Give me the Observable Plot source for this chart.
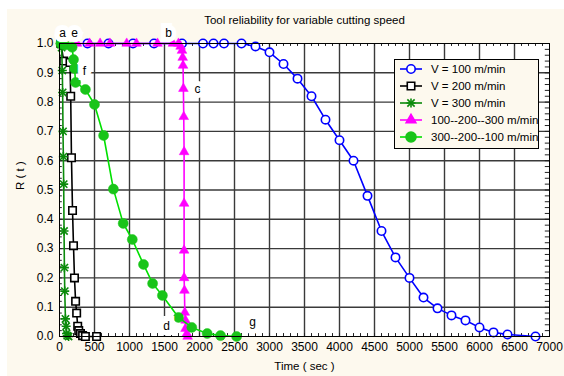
<!DOCTYPE html>
<html><head><meta charset="utf-8">
<script src="https://cdn.jsdelivr.net/npm/d3@7"></script>
<script src="https://cdn.jsdelivr.net/npm/@observablehq/plot@0.6"></script>
<style>body{margin:0;background:#fff} svg{display:block}</style>
</head><body><div id="chart"></div>
<script>
// ---- data ----
const seriesNames = ["V = 100 m/min", "V = 200 m/min", "V = 300 m/min", "100--200--300 m/min", "300--200--100 m/min"];

const v100T = [400, 700, 1050, 1350, 1750, 2050, 2200, 2350, 2600, 2800, 3000, 3200, 3400, 3600, 3800, 4000, 4200, 4400, 4600, 4800, 5000, 5200, 5400, 5600, 5800, 6000, 6200, 6400, 6800];
const v100R = [1, 1, 1, 1, 1, 1, 1, 1, 1, 0.99, 0.97, 0.93, 0.88, 0.82, 0.74, 0.67, 0.60, 0.48, 0.36, 0.27, 0.20, 0.133, 0.096, 0.072, 0.055, 0.031, 0.014, 0.007, 0.0];

const v200T = [20, 60, 150, 160, 171, 186, 200, 214, 230, 245, 260, 275, 300, 330, 370, 530];
const v200R = [1.0, 0.94, 0.935, 0.82, 0.61, 0.43, 0.31, 0.20, 0.12, 0.08, 0.035, 0.02, 0.01, 0.003, 0.0, 0.0];

const v300T = [10, 30, 40, 45, 50, 55, 60, 65, 70, 75, 85, 95, 100, 110, 130];
const v300R = [1.0, 0.986, 0.908, 0.833, 0.70, 0.614, 0.52, 0.36, 0.235, 0.155, 0.06, 0.035, 0.01, 0.003, 0.0];

const incT = [250, 430, 580, 720, 960, 1100, 1400, 1620, 1700, 1730, 1750, 1760, 1765, 1770, 1775, 1780, 1780, 1780, 1780, 1785, 1790, 1800, 1800, 1820, 1830];
const incR = [1, 1, 1, 1, 1, 1, 1, 1, 1, 0.99, 0.976, 0.952, 0.925, 0.846, 0.75, 0.63, 0.454, 0.294, 0.20, 0.157, 0.082, 0.055, 0.027, 0.01, 0.0];

const decT = [20, 80, 180, 200, 215, 230, 370, 500, 630, 770, 910, 1040, 1200, 1330, 1470, 1700, 1890, 2110, 2300, 2530];
const decR = [1.0, 0.995, 0.987, 0.945, 0.915, 0.867, 0.843, 0.792, 0.686, 0.503, 0.386, 0.331, 0.246, 0.181, 0.14, 0.065, 0.031, 0.01, 0.003, 0.0];

const labelText = ["a", "b", "c", "d", "e", "f", "g"];
const labelT = [43, 1557, 1971, 1529, 214, 357, 2757];
const labelR = [1.036, 1.036, 0.843, 0.034, 1.036, 0.904, 0.048];

const xTicks = [0, 500, 1000, 1500, 2000, 2500, 3000, 3500, 4000, 4500, 5000, 5500, 6000, 6500, 7000];
const yTicks = [0, 0.1, 0.2, 0.3, 0.4, 0.5, 0.6, 0.7, 0.8, 0.9, 1.0];

const titleText = "Tool reliability for variable cutting speed";
const xLabel = "Time ( sec )";
const yLabel = "R ( t )";

// ---- build tables ----
const zip = (T, R) => T.map((t, i) => ({t, r: R[i]}));
const d100 = zip(v100T, v100R), d200 = zip(v200T, v200R), d300 = zip(v300T, v300R);
const dInc = zip(incT, incR), dDec = zip(decT, decR);
const labels = labelText.map((s, i) => ({s, t: labelT[i], r: labelR[i]}));
const minorX = d3.range(0, 7001, 100);
const minorY = d3.range(0, 1.0001, 0.02);

const C = {blue: "#0000ff", black: "#000000", dgreen: "#0a8a0a", mag: "#ff00ff", green: "#19c419", gline: "#00e000"};
const FONT = "'Liberation Sans', Arial, sans-serif";
const grid = {stroke: "#3a3a3a", strokeOpacity: 1, strokeWidth: 1.4};

const svg = Plot.plot({
  width: 564, height: 376,
  marginLeft: 59, marginRight: 15, marginTop: 43, marginBottom: 40,
  x: {domain: [0, 7000]},
  y: {domain: [0, 1]},
  style: {background: "white", fontFamily: FONT, fontSize: "12px", color: "black", overflow: "visible"},
  marks: [
    Plot.frame({fill: "white", stroke: null}),
    Plot.gridX(xTicks.slice(1, -1), grid),
    Plot.gridY(yTicks.slice(1, -1), grid),
    Plot.ruleX(minorX, {x: d => d, y1: 1, y2: 0.99, stroke: "#222", strokeWidth: 1}),
    Plot.ruleX(minorX, {x: d => d, y1: 0, y2: 0.01, stroke: "#222", strokeWidth: 1}),
    Plot.ruleY(minorY, {y: d => d, x1: 7000, x2: 6940, stroke: "#222", strokeWidth: 1}),
    Plot.ruleY(minorY, {y: d => d, x1: 0, x2: 40, stroke: "#222", strokeWidth: 1}),
    // V=100
    Plot.line(d100, {x: "t", y: "r", stroke: C.blue, strokeWidth: 1.6}),
    Plot.dot(d100, {x: "t", y: "r", r: 4.2, stroke: C.blue, strokeWidth: 1.6, fill: "white"}),
    // V=200
    Plot.line(d200, {x: "t", y: "r", stroke: C.black, strokeWidth: 1.6}),
    Plot.dot(d200, {x: "t", y: "r", symbol: "square", r: 4.2, stroke: C.black, strokeWidth: 1.6, fill: "white"}),
    // V=300
    Plot.line(d300, {x: "t", y: "r", stroke: C.dgreen, strokeWidth: 1.6}),
    Plot.dot(d300, {x: "t", y: "r", symbol: "plus", r: 3, stroke: C.dgreen, strokeWidth: 1.6}),
    Plot.dot(d300, {x: "t", y: "r", symbol: "times", r: 3.4, stroke: C.dgreen, strokeWidth: 1.6}),
    // 100-200-300
    Plot.line(dInc, {x: "t", y: "r", stroke: C.mag, strokeWidth: 1.6}),
    Plot.dot(dInc, {x: "t", y: "r", symbol: "triangle", r: 3.6, fill: C.mag, stroke: C.mag, strokeWidth: 0.5}),
    // 300-200-100
    Plot.line(dDec, {x: "t", y: "r", stroke: C.gline, strokeWidth: 1.6}),
    Plot.dot(dDec, {x: "t", y: "r", r: 5, fill: C.green, stroke: C.green, strokeWidth: 0.5}),
    // letter labels
    Plot.text(labels, {x: "t", y: "r", text: "s", fill: "black", stroke: "white", strokeWidth: 10, strokeLinejoin: "miter", fontSize: 12}),
    Plot.frame({stroke: "black", strokeWidth: 1}),
    Plot.axisX(xTicks, {tickSize: 0, tickPadding: 6, fontSize: 12, tickFormat: d3.format("d"), label: null}),
    Plot.axisY(yTicks, {tickSize: 0, tickPadding: 6, fontSize: 12, tickFormat: d3.format(".1f"), label: null}),
    Plot.text([titleText], {frameAnchor: "top", dy: -23, fontSize: 11.5, lineAnchor: "middle"}),
    Plot.text([xLabel], {frameAnchor: "bottom", dy: 30, fontSize: 11.5, lineAnchor: "middle"}),
    Plot.text([yLabel], {frameAnchor: "left", dx: -39, rotate: -90, fontSize: 11.5, lineAnchor: "middle"})
  ]
});

// cream figure background
const s = d3.select(svg);
s.insert("rect", ":first-child").attr("x", 7).attr("y", 9).attr("width", 557).attr("height", 367).attr("fill", "#fdf9ee");

// legend
const lg = s.append("g").attr("font-family", FONT).attr("font-size", 11.5).attr("text-anchor", "start");
lg.append("rect").attr("x", 394.5).attr("y", 59.5).attr("width", 144).attr("height", 89).attr("fill", "#fdf9ee").attr("stroke", "black");
const legendStyle = [
  {line: C.blue, sym: d3.symbolCircle, size: Math.PI * 4.2 * 4.2, fill: "white", stroke: C.blue},
  {line: C.black, sym: d3.symbolSquare, size: Math.PI * 4.2 * 4.2, fill: "white", stroke: C.black},
  {line: C.dgreen, sym: "star", fill: "none", stroke: C.dgreen},
  {line: C.mag, sym: d3.symbolTriangle, size: Math.PI * 3.6 * 3.6, fill: C.mag, stroke: C.mag},
  {line: C.gline, sym: d3.symbolCircle, size: Math.PI * 25, fill: C.green, stroke: C.green}
];
seriesNames.forEach((name, i) => {
  const y = 69 + i * 17, st = legendStyle[i];
  const g = lg.append("g");
  g.append("line").attr("x1", 400).attr("x2", 422).attr("y1", y).attr("y2", y).attr("stroke", st.line).attr("stroke-width", 1.6);
  if (st.sym === "star") {
    g.append("path").attr("transform", `translate(411,${y})`).attr("d", d3.symbol(d3.symbolPlus, Math.PI * 9)()).attr("stroke", st.stroke).attr("stroke-width", 1.6).attr("fill", "none");
    g.append("path").attr("transform", `translate(411,${y})`).attr("d", d3.symbol(d3.symbolTimes, Math.PI * 3.4 * 3.4)()).attr("stroke", st.stroke).attr("stroke-width", 1.6).attr("fill", "none");
  } else {
    g.append("path").attr("transform", `translate(411,${y})`).attr("d", d3.symbol(st.sym, st.size)()).attr("fill", st.fill).attr("stroke", st.stroke).attr("stroke-width", 1.6);
  }
  g.append("text").attr("x", 431).attr("y", y).attr("dy", "0.35em").attr("fill", "black").text(name);
});

document.getElementById("chart").appendChild(svg);
</script>
</body></html>
